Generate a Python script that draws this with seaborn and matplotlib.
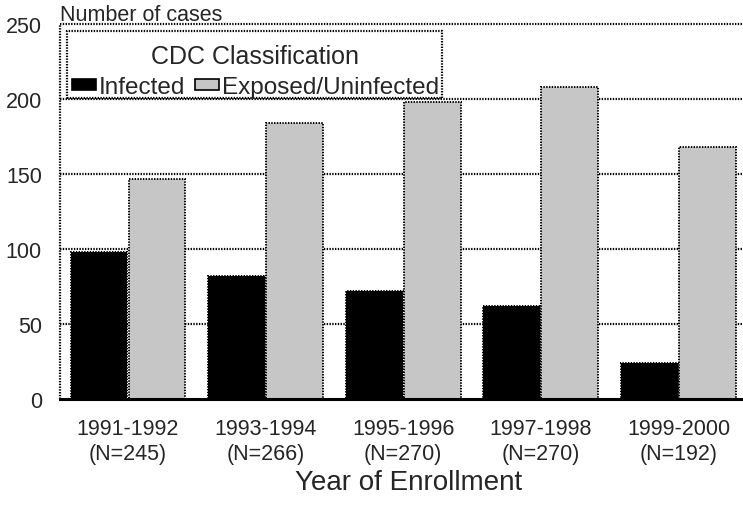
import pandas as pd
import matplotlib
matplotlib.use("Agg")
import matplotlib.pyplot as plt
from matplotlib.patches import Rectangle
import seaborn as sns

# data
years = ["1991-1992", "1993-1994", "1995-1996", "1997-1998", "1999-2000"]
n_total = [245, 266, 270, 270, 192]
infected = [98, 82, 72, 62, 24]
exposed = [147, 184, 198, 208, 168]
series_names = ["Infected", "Exposed/Uninfected"]
y_ticks = [0, 50, 100, 150, 200, 250]

labels = [f"{y}\n(N={n})" for y, n in zip(years, n_total)]
df = pd.DataFrame({
    "period": labels * 2,
    "cases": infected + exposed,
    "group": [series_names[0]] * len(labels) + [series_names[1]] * len(labels),
})

sns.set_style("white")
plt.rcParams['font.family'] = ['Liberation Sans', 'DejaVu Sans']
plt.rcParams['lines.scale_dashes'] = False

W, H = 743, 506
fig = plt.figure(figsize=(W / 100, H / 100), dpi=100)
ax = fig.add_axes([60 / W, 1 - 400 / H, 683 / W, 375 / H])

dots = (0, (1, 1))
ax.set_axisbelow(True)
for v in y_ticks[1:-1]:
    ax.axhline(v, color="black", lw=1.6, ls=dots, zorder=0)

sns.barplot(data=df, x="period", y="cases", hue="group", order=labels,
            hue_order=series_names, palette=["black", "#c6c6c6"],
            width=0.843, gap=0.02, edgecolor="black", linewidth=1.4,
            linestyle=dots, saturation=1, ax=ax, legend=True)

ax.set_xlim(-0.494, 4.469)
ax.set_ylim(0, 250)
ax.set_yticks(y_ticks)
ax.tick_params(axis="y", length=0, pad=13, labelsize=15.5)
ax.tick_params(axis="x", length=0, pad=14, labelsize=15.5)
ax.set_xlabel("")
ax.set_ylabel("")

# dotted frame on left and top, solid base line
for side in ["left", "top", "right"]:
    ax.spines[side].set_visible(False)
ax.plot([0, 0], [0, 1], transform=ax.transAxes, color="black", lw=1.6,
        ls=dots, clip_on=False, zorder=3)
ax.plot([0, 1], [1, 1], transform=ax.transAxes, color="black", lw=1.6,
        ls=dots, clip_on=False, zorder=3)
ax.spines["bottom"].set_linewidth(2.2)
ax.spines["bottom"].set_color("black")

# legend box drawn separately so the text can sit lower inside it
box = Rectangle((67 / W, 1 - 99 / H), 375 / W, 67 / H, transform=fig.transFigure,
                facecolor="white", edgecolor="black", linestyle=dots,
                linewidth=1.6, zorder=4.9, clip_on=False)
ax.add_patch(box)

leg = ax.legend(title="CDC Classification", ncol=2, loc="upper left",
                bbox_to_anchor=(72 / W, 1 - 45 / H), bbox_transform=fig.transFigure,
                fontsize=17.5, title_fontsize=18, frameon=False,
                handlelength=1.0, handleheight=0.35, handletextpad=0.1,
                columnspacing=0.4, borderpad=0, borderaxespad=0, labelspacing=0)
leg._legend_box.sep = 6
for h in leg.legend_handles:
    h.set_edgecolor("black")
    h.set_linestyle("-")
    h.set_linewidth(1.2)

fig.text(60 / W, 1 - 21 / H, "Number of cases", fontsize=15.5, va="baseline")
fig.text(409 / W, 1 - 490 / H, "Year of Enrollment", fontsize=20,
         ha="center", va="baseline")

fig.savefig("out.png", dpi=100)
